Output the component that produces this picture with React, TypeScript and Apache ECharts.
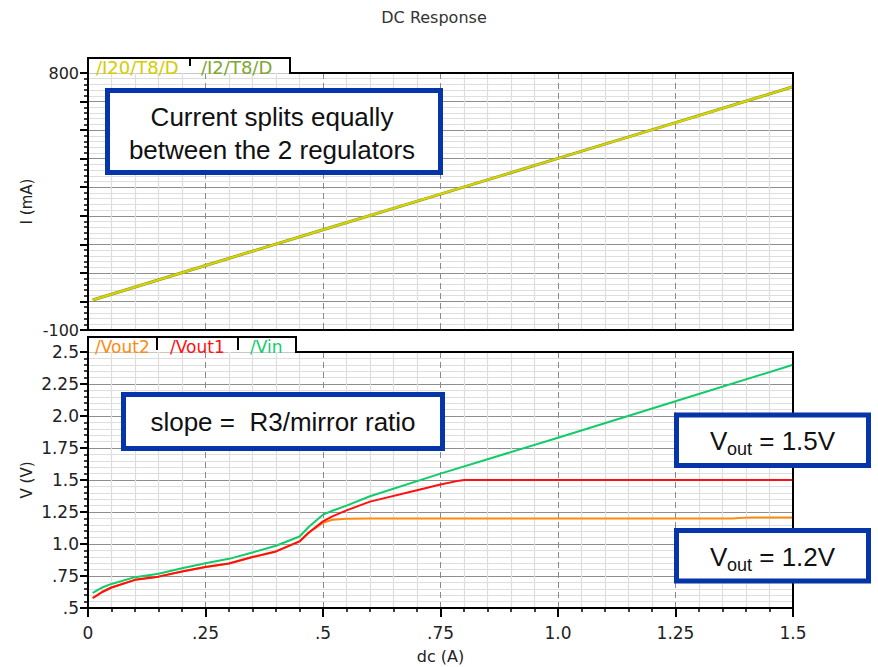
import React, { useEffect, useRef } from "react";
import * as echarts from "echarts";

// ---- data ----
const xTickLabels = ["0", ".25", ".5", ".75", "1.0", "1.25", "1.5"];
const vTickLabels = [".5", ".75", "1.0", "1.25", "1.5", "1.75", "2.0", "2.25", "2.5"];
const iTickLabels = ["-100", "800"];

const dcI = [0.01, 0.25, 0.5, 0.75, 1.0, 1.25, 1.5];
const i20 = [5, 126, 251, 376, 501, 626, 752];
const i2 = [5, 126, 251, 376, 501, 626, 752];

const dcVin = [0.01, 0.02, 0.03, 0.05, 0.1, 0.15, 0.2, 0.25, 0.3, 0.35, 0.4, 0.45, 0.47, 0.5, 0.52, 0.55, 0.6, 0.75, 1.0, 1.25, 1.5];
const vin = [0.617, 0.64, 0.66, 0.688, 0.741, 0.767, 0.811, 0.85, 0.884, 0.934, 0.986, 1.059, 1.135, 1.229, 1.26, 1.3, 1.373, 1.55, 1.83, 2.115, 2.4];

const dcVout1 = [0.01, 0.02, 0.03, 0.05, 0.1, 0.15, 0.2, 0.25, 0.3, 0.35, 0.4, 0.45, 0.47, 0.5, 0.52, 0.55, 0.6, 0.7, 0.75, 0.79, 0.8, 1.5];
const vout1 = [0.578, 0.6, 0.625, 0.66, 0.72, 0.745, 0.785, 0.82, 0.848, 0.898, 0.942, 1.02, 1.09, 1.177, 1.216, 1.263, 1.331, 1.42, 1.465, 1.495, 1.5, 1.5];

const dcVout2 = [0.01, 0.02, 0.03, 0.05, 0.1, 0.15, 0.2, 0.25, 0.3, 0.35, 0.4, 0.45, 0.47, 0.49, 0.5, 0.52, 0.55, 0.6, 1.37, 1.41, 1.5];
const vout2 = [0.578, 0.6, 0.625, 0.66, 0.72, 0.745, 0.785, 0.82, 0.848, 0.898, 0.942, 1.02, 1.09, 1.14, 1.166, 1.19, 1.198, 1.2, 1.2, 1.208, 1.208];

const zip = (xs: number[], ys: number[]) => xs.map((x, i) => [x, ys[i]]);

const TICK_FONT = "DejaVu Sans";
const BOX_FONT = "Liberation Sans, Arial, sans-serif";
const BLUE = "#0535a8";

export default function App() {
  const ref = useRef<HTMLDivElement>(null);
  useEffect(() => {
    if (!ref.current) return;
    const chart = echarts.init(ref.current, undefined, { renderer: "svg" });

    const majorV = { show: true, lineStyle: { color: "#8a8a8a", type: [6, 4], width: 1 } };
    const majorH = { show: true, lineStyle: { color: "#8e8e8e", type: "solid", width: 1 } };
    const minorLine = { show: true, lineStyle: { color: "#dedede", width: 1.2 } };
    const axisLine = { show: true, onZero: false, lineStyle: { color: "#000", width: 2 } };
    const tick = { show: true, length: 8, lineStyle: { color: "#000", width: 2 } };
    const minorTick = { show: true, splitNumber: 5, length: 4, lineStyle: { color: "#000", width: 1.5 } };
    const nameStyle = { fontFamily: TICK_FONT, fontSize: 16, color: "#222" };

    const tabText = (x: number, y: number, text: string, color: string, size: number) => ({
      type: "text",
      z: 120,
      x,
      y,
      style: { text, fill: color, fontFamily: TICK_FONT, fontSize: size, align: "left", verticalAlign: "middle" },
    });

    const boxRect = (x: number, y: number, w: number, h: number) => ({
      type: "rect",
      z: 130,
      shape: { x, y, width: w, height: h },
      style: { fill: "#fff", stroke: BLUE, lineWidth: 5 },
    });
    const boxText = (x: number, y: number, text: string, size: number, align = "center") => ({
      type: "text",
      z: 140,
      x,
      y,
      style: { text, fill: "#111", fontFamily: BOX_FONT, fontSize: size, align, verticalAlign: "middle" },
    });

    const option: any = {
      animation: false,
      grid: [
        { left: 88, top: 73, width: 705, height: 257, show: false },
        { left: 88, top: 352, width: 705, height: 256, show: false },
      ],
      xAxis: [
        {
          gridIndex: 0,
          type: "value",
          min: 0,
          max: 1.5,
          interval: 0.25,
          axisLine,
          axisTick: { show: false },
          minorTick: { show: false, splitNumber: 5 },
          axisLabel: { show: false },
          splitLine: majorV,
          minorSplitLine: minorLine,
        },
        {
          gridIndex: 1,
          type: "value",
          min: 0,
          max: 1.5,
          interval: 0.25,
          axisLine,
          axisTick: { ...tick, length: 9 },
          minorTick,
          axisLabel: {
            margin: 16,
            fontFamily: TICK_FONT,
            fontSize: 17,
            color: "#222",
            formatter: (v: number) => xTickLabels[Math.round(v / 0.25)] ?? "",
          },
          splitLine: majorV,
          minorSplitLine: minorLine,
          name: "dc (A)",
          nameLocation: "middle",
          nameGap: 40,
          nameMoveOverlap: false,
          nameTextStyle: nameStyle,
        },
      ],
      yAxis: [
        {
          gridIndex: 0,
          type: "value",
          min: -100,
          max: 800,
          interval: 100,
          axisLine,
          axisTick: tick,
          minorTick,
          axisLabel: {
            margin: 9,
            fontFamily: TICK_FONT,
            fontSize: 16,
            color: "#222",
            showMinLabel: true,
            showMaxLabel: true,
            formatter: (v: number) => (iTickLabels.includes(String(v)) ? String(v) : ""),
          },
          splitLine: majorH,
          minorSplitLine: minorLine,
          name: "I (mA)",
          nameLocation: "middle",
          nameGap: 54,
          nameMoveOverlap: false,
          nameRotate: 90,
          nameTextStyle: { ...nameStyle, fontSize: 15 },
        },
        {
          gridIndex: 1,
          type: "value",
          min: 0.5,
          max: 2.5,
          interval: 0.25,
          axisLine,
          axisTick: tick,
          minorTick,
          axisLabel: {
            margin: 9,
            fontFamily: TICK_FONT,
            fontSize: 17,
            color: "#222",
            showMinLabel: true,
            showMaxLabel: true,
            formatter: (v: number) => vTickLabels[Math.round((v - 0.5) / 0.25)] ?? "",
          },
          splitLine: majorH,
          minorSplitLine: minorLine,
          name: "V (V)",
          nameLocation: "middle",
          nameGap: 54,
          nameMoveOverlap: false,
          nameRotate: 90,
          nameTextStyle: { ...nameStyle, fontSize: 15 },
        },
      ],
      series: [
        {
          name: "/I2/T8/D",
          type: "line",
          xAxisIndex: 0,
          yAxisIndex: 0,
          data: zip(dcI, i2),
          showSymbol: false,
          symbol: "none",
          lineStyle: { color: "#7f9d2a", width: 3 },
          z: 3,
        },
        {
          name: "/I20/T8/D",
          type: "line",
          xAxisIndex: 0,
          yAxisIndex: 0,
          data: zip(dcI, i20),
          showSymbol: false,
          symbol: "none",
          lineStyle: { color: "#dcd200", width: 2 },
          z: 4,
        },
        {
          name: "/Vout2",
          type: "line",
          xAxisIndex: 1,
          yAxisIndex: 1,
          data: zip(dcVout2, vout2),
          showSymbol: false,
          symbol: "none",
          lineStyle: { color: "#ff8a10", width: 2 },
          z: 3,
        },
        {
          name: "/Vout1",
          type: "line",
          xAxisIndex: 1,
          yAxisIndex: 1,
          data: zip(dcVout1, vout1),
          showSymbol: false,
          symbol: "none",
          lineStyle: { color: "#ff1010", width: 2 },
          z: 4,
        },
        {
          name: "/Vin",
          type: "line",
          xAxisIndex: 1,
          yAxisIndex: 1,
          data: zip(dcVin, vin),
          showSymbol: false,
          symbol: "none",
          lineStyle: { color: "#10cc6a", width: 2 },
          z: 5,
        },
      ],
      graphic: [
        {
          type: "text",
          x: 434,
          y: 17,
          z: 120,
          style: { text: "DC Response", fill: "#333", fontFamily: TICK_FONT, fontSize: 16, align: "center", verticalAlign: "middle" },
        },
        // top tab + frame
        { type: "rect", z: 110, shape: { x: 89, y: 59, width: 200, height: 14.5 }, style: { fill: "#fff" } },
        {
          type: "polyline",
          z: 115,
          shape: { points: [[88, 74], [88, 58], [290, 58], [290, 73], [793, 73], [793, 330]] },
          style: { stroke: "#000", lineWidth: 2, fill: null },
        },
        { type: "line", z: 115, shape: { x1: 190, y1: 58, x2: 190, y2: 66 }, style: { stroke: "#000", lineWidth: 2 } },
        tabText(96, 67, "/I20/T8/D", "#d6cc00", 18),
        tabText(201, 67, "/I2/T8/D", "#80a632", 18),
        // bottom tab + frame
        { type: "rect", z: 110, shape: { x: 89, y: 338, width: 206, height: 14.5 }, style: { fill: "#fff" } },
        {
          type: "polyline",
          z: 115,
          shape: { points: [[88, 353], [88, 337], [296, 337], [296, 352], [793, 352], [793, 608]] },
          style: { stroke: "#000", lineWidth: 2, fill: null },
        },
        { type: "line", z: 115, shape: { x1: 157, y1: 337, x2: 157, y2: 350 }, style: { stroke: "#000", lineWidth: 2 } },
        { type: "line", z: 115, shape: { x1: 238, y1: 337, x2: 238, y2: 350 }, style: { stroke: "#000", lineWidth: 2 } },
        tabText(95, 347, "/Vout2", "#ff8a10", 17),
        tabText(170, 347, "/Vout1", "#ff1010", 17),
        tabText(250, 347, "/Vin", "#10cc6a", 17),
        // annotation boxes
        boxRect(107.5, 90.5, 333, 82),
        boxText(272, 117, "Current splits equally", 26),
        boxText(272, 150, "between the 2 regulators", 26),
        boxRect(123.5, 394.5, 319, 54),
        boxText(283, 422, "slope =  R3/mirror ratio", 26),
        boxRect(676.5, 415, 192, 50.5),
        boxText(710, 441, "V", 26, "left"),
        boxText(727, 449, "out", 18, "left"),
        boxText(752, 441, " = 1.5V", 26, "left"),
        boxRect(676.5, 530.5, 192, 50.5),
        boxText(710, 556.5, "V", 26, "left"),
        boxText(727, 564.5, "out", 18, "left"),
        boxText(752, 556.5, " = 1.2V", 26, "left"),
      ],
    };

    chart.setOption(option);
    return () => chart.dispose();
  }, []);

  return (
    <div
      ref={ref}
      style={{ position: "fixed", left: 0, top: 0, width: 878, height: 667, background: "#fff" }}
    />
  );
}
